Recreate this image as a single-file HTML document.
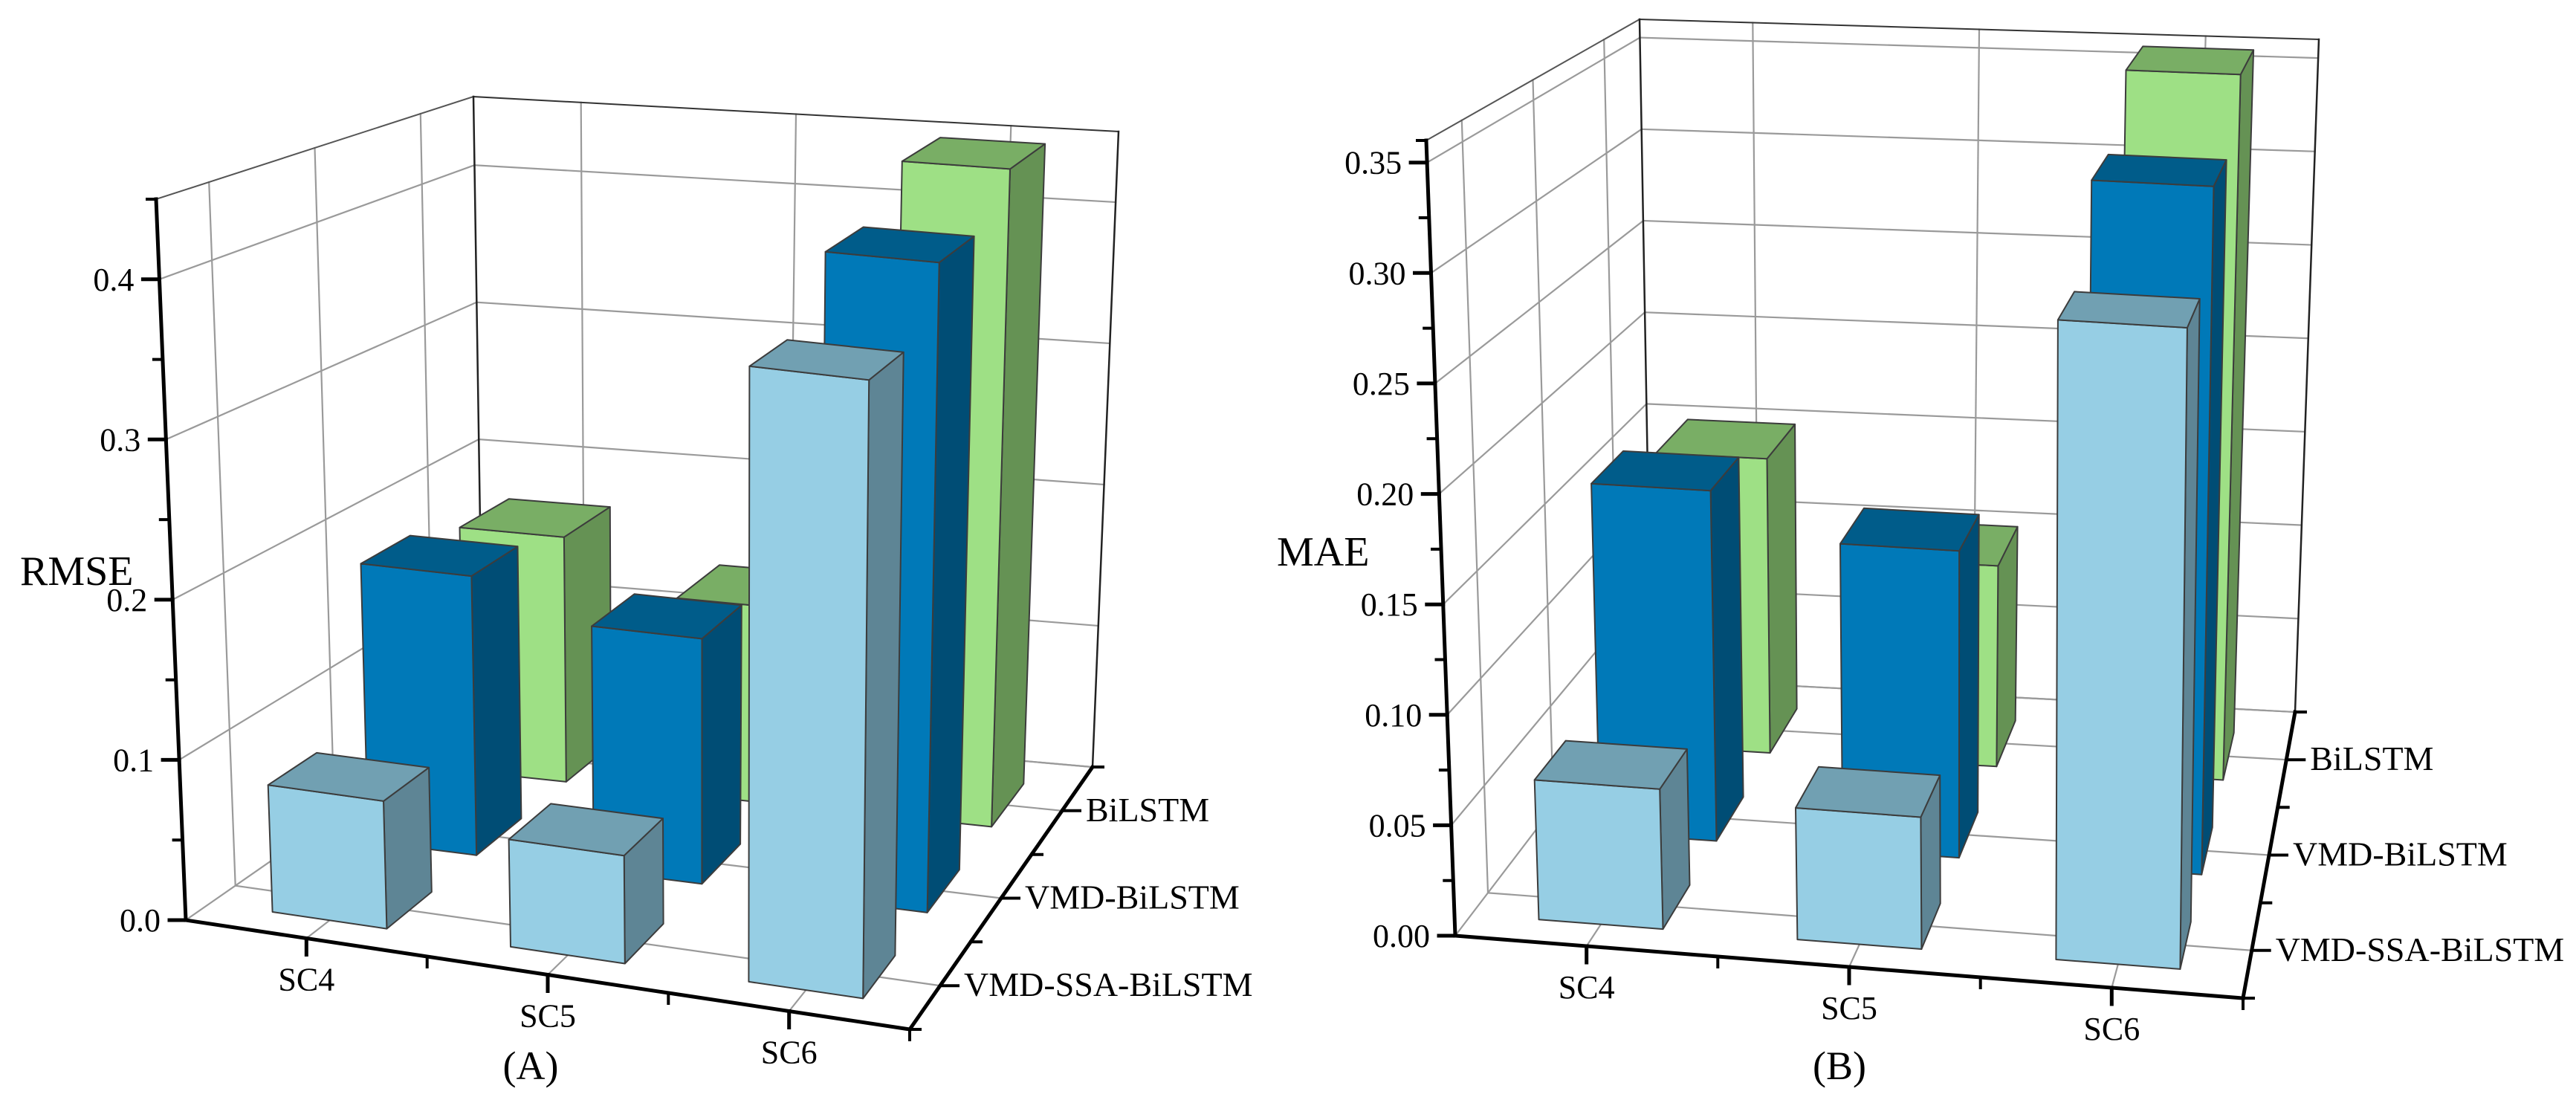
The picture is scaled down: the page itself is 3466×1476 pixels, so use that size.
<!DOCTYPE html>
<html>
<head>
<meta charset="utf-8">
<style>
  html,body{margin:0;padding:0;background:#fff;}
  svg{display:block;}
  text{font-family:"Liberation Serif","DejaVu Serif",serif;fill:#000;}
</style>
</head>
<body>
<svg id="chart" xmlns="http://www.w3.org/2000/svg" width="3466" height="1476" viewBox="0 0 3466 1476"></svg>
<script>
// ---- data ----
const categories = ['SC4', 'SC5', 'SC6'];
const seriesNames = ['VMD-SSA-BiLSTM', 'VMD-BiLSTM', 'BiLSTM'];
const rmseSSA = [0.080, 0.067, 0.380];
const rmseVMD = [0.184, 0.160, 0.420];
const rmseBi  = [0.170, 0.135, 0.448];
const maeSSA = [0.064, 0.060, 0.290];
const maeVMD = [0.170, 0.148, 0.330];
const maeBi  = [0.152, 0.103, 0.360];
const rmseTicks = [0, 0.1, 0.2, 0.3, 0.4];
const rmseTickLabels = ['0.0', '0.1', '0.2', '0.3', '0.4'];
const rmseMinor = [0.05, 0.15, 0.25, 0.35, 0.45];
const maeTicks = [0, 0.05, 0.10, 0.15, 0.20, 0.25, 0.30, 0.35];
const maeTickLabels = ['0.00', '0.05', '0.10', '0.15', '0.20', '0.25', '0.30', '0.35'];
const maeMinor = [0.025, 0.075, 0.125, 0.175, 0.225, 0.275, 0.325];

const NS = 'http://www.w3.org/2000/svg';
const svg = document.getElementById('chart');

const fills = [
  {front:'#96CEE4', top:'#71A0B2', side:'#5E8595'},
  {front:'#0079B8', top:'#005C8A', side:'#004D75'},
  {front:'#9EE085', top:'#79AE65', side:'#659254'}
];

function mk(tag, attrs, parent) {
  const e = document.createElementNS(NS, tag);
  for (const k in attrs) e.setAttribute(k, attrs[k]);
  (parent || svg).appendChild(e);
  return e;
}

function makePanel(cfg) {
  const g = mk('g', {});
  
  
  const C = cfg.corners;
  function lerp(a, b, t) { return [a[0] + (b[0] - a[0]) * t, a[1] + (b[1] - a[1]) * t]; }
  function P(u, v, w) {
    const fb = lerp(C.FLB, C.FRB, u), bb = lerp(C.BLB, C.BRB, u);
    const ft = lerp(C.FLT, C.FRT, u), bt = lerp(C.BLT, C.BRT, u);
    const b = lerp(fb, bb, v), t = lerp(ft, bt, v);
    return lerp(b, t, w);
  }
  const W = val => val / cfg.max;
  function line(a, b, stroke, sw, name) {
    const l = mk('line', {x1:a[0].toFixed(1), y1:a[1].toFixed(1), x2:b[0].toFixed(1), y2:b[1].toFixed(1), stroke:stroke, 'stroke-width':sw, 'stroke-linecap':'square'}, g);
    
    
    return l;
  }
  function text(x, y, s, size, anchor, name) {
    const t = mk('text', {x:x.toFixed(1), y:y.toFixed(1), 'font-size':size, 'text-anchor':anchor}, g);
    t.textContent = s;
    
    
    return t;
  }
  const grid = '#9a9a9a', gw = 2.2;
  const centers = [1/6, 1/2, 5/6];
  cfg.ticks.forEach(val => {
    const w = W(val);
    line(P(0,1,w), P(1,1,w), grid, gw, 'back-wall-gridline');
    line(P(0,0,w), P(0,1,w), grid, gw, 'side-wall-gridline');
  });
  centers.forEach(c => {
    line(P(c,1,0), P(c,1,1), grid, gw, 'back-wall-vertical-gridline');
    line(P(0,c,0), P(0,c,1), grid, gw, 'side-wall-vertical-gridline');
    line(P(c,0,0), P(c,1,0), grid, gw, 'floor-gridline');
    line(P(0,c,0), P(1,c,0), grid, gw, 'floor-gridline');
  });
  line(P(0,0,1), P(0,1,1), '#555', 2, 'box-edge');
  line(P(0,1,1), P(1,1,1), '#333', 2, 'box-edge');
  line(P(0,1,0), P(0,1,1), '#222', 2.5, 'box-edge');
  line(P(1,1,0), P(1,1,1), '#222', 2.5, 'box-edge');
  line(P(0,1,0), P(1,1,0), grid, gw, 'box-edge');

  const data = [cfg.s0, cfg.s1, cfg.s2];
  const bw = 0.48 / 3, bd = 0.5 / 3;
  for (let s = 2; s >= 0; s--) {
    for (let c = 0; c < 3; c++) {
      const u0 = centers[c] - bw / 2, u1 = centers[c] + bw / 2;
      const v0 = centers[s] - bd / 2, v1 = centers[s] + bd / 2;
      const h = W(data[s][c]);
      const bg = mk('g', {stroke:'#3c3c3c', 'stroke-width':2, 'stroke-linejoin':'round'}, g);
      
      
      const poly = (pts, fill, nm) => {
        const p = mk('polygon', {points: pts.map(q => q[0].toFixed(1) + ',' + q[1].toFixed(1)).join(' '), fill: fill}, bg);
        
        
      };
      poly([P(u1,v0,0), P(u1,v1,0), P(u1,v1,h), P(u1,v0,h)], fills[s].side, 'bar-side-face');
      poly([P(u0,v0,0), P(u1,v0,0), P(u1,v0,h), P(u0,v0,h)], fills[s].front, 'bar-front-face');
      poly([P(u0,v0,h), P(u1,v0,h), P(u1,v1,h), P(u0,v1,h)], fills[s].top, 'bar-top-face');
    }
  }

  line(P(0,0,0), P(0,0,1), '#000', 5, 'y-axis-line');
  line(P(0,0,0), P(1,0,0), '#000', 5, 'x-axis-line');
  line(P(1,0,0), P(1,1,0), '#000', 5, 'depth-axis-line');
  cfg.ticks.forEach((val, i) => {
    const p = P(0,0,W(val));
    line(p, [p[0]-22, p[1]], '#000', 5, 'y-axis-tick');
    text(p[0]-34, p[1]+15, cfg.tickLabels[i], 44, 'end', 'y-tick-label');
  });
  cfg.minor.forEach(val => {
    const p = P(0,0,W(val));
    line(p, [p[0]-12, p[1]], '#000', 4, 'y-axis-minor-tick');
  });
  line(P(0,0,1), [P(0,0,1)[0]-12, P(0,0,1)[1]], '#000', 4, 'y-axis-end-tick');
  centers.forEach((c, i) => {
    const p = P(c,0,0);
    line(p, [p[0], p[1]+22], '#000', 5, 'x-axis-tick');
    text(p[0], p[1]+70, categories[i], 44, 'middle', 'x-tick-label');
    const q = P(1,c,0);
    line(q, [q[0]+24, q[1]], '#000', 4, 'depth-axis-tick');
    text(q[0]+32, q[1]+14, seriesNames[i], 46, 'start', 'series-label');
  });
  [1/3, 2/3, 1].forEach(c => {
    const p = P(c,0,0);
    line(p, [p[0], p[1]+14], '#000', 4, 'x-axis-minor-tick');
  });
  [0, 1/3, 2/3, 1].forEach(c => {
    const q = P(1,c,0);
    line(q, [q[0]+14, q[1]], '#000', 4, 'depth-axis-minor-tick');
  });
  text(cfg.titleX, cfg.titleY, cfg.title, 56, 'start', 'y-axis-title');
  text(cfg.labelX, 1452, cfg.panelLabel, 54, 'middle', 'panel-label');
}

makePanel({
  name: 'rmse-panel',
  corners: {FLB:[250,1238], FRB:[1224,1385], BLB:[650,960], BRB:[1470,1032],
            FLT:[210,268], FRT:[1236,385], BLT:[637,130], BRT:[1505,177]},
  max: 0.45, s0: rmseSSA, s1: rmseVMD, s2: rmseBi,
  ticks: rmseTicks, tickLabels: rmseTickLabels, minor: rmseMinor,
  title: 'RMSE', titleX: 27, titleY: 787, panelLabel: '(A)', labelX: 714
});
makePanel({
  name: 'mae-panel',
  corners: {FLB:[1958,1259], FRB:[3018,1343], BLB:[2222,913], BRB:[3088,958],
            FLT:[1919,189], FRT:[3033,255], BLT:[2206,26], BRT:[3120,53]},
  max: 0.36, s0: maeSSA, s1: maeVMD, s2: maeBi,
  ticks: maeTicks, tickLabels: maeTickLabels, minor: maeMinor,
  title: 'MAE', titleX: 1718, titleY: 761, panelLabel: '(B)', labelX: 2475
});
</script>
</body>
</html>
